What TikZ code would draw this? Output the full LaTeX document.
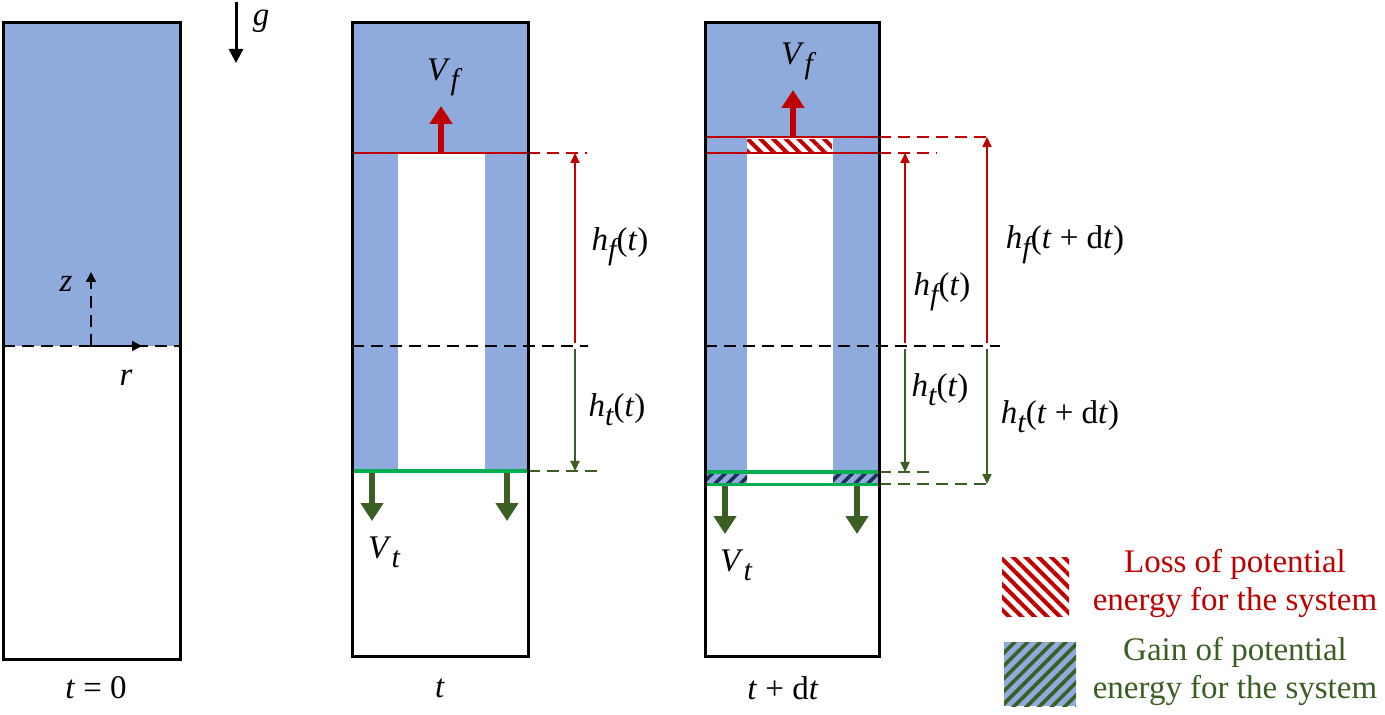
\documentclass[tikz,border=0pt]{standalone}
\usepackage{fontspec}
\setmainfont{Liberation Serif}
\usetikzlibrary{arrows.meta,patterns.meta}
\definecolor{fluid}{HTML}{8FAADC}
\definecolor{lossred}{HTML}{C00000}
\definecolor{gainline}{HTML}{00B050}
\definecolor{dkgreen}{HTML}{3B5E23}
\definecolor{navy}{HTML}{1F2F5C}
\newcommand{\sub}[1]{\raisebox{-4.5pt}{\fontsize{15pt}{15pt}\selectfont\itshape #1}}
\newcommand{\vi}[1]{\textit{#1}}
\tikzset{
  wall/.style={draw=black,line width=1.5pt},
  guide/.style={dash pattern=on 6pt off 3.5pt,line width=0.75pt},
  dim/.style={line width=1pt,-{Triangle[length=5pt,width=4.5pt]}},
  vel/.style={line width=3pt,-{Triangle[length=9pt,width=11pt]}},
  lbl/.style={font=\fontsize{16.5pt}{19pt}\selectfont,inner sep=0pt},
  losshatch/.style={pattern={Lines[angle=-45,distance=4.5pt,line width=2pt]},pattern color=lossred},
  gainhatch/.style={pattern={Lines[angle=45,distance=4.5pt,line width=1.8pt]},pattern color=#1}
}
\begin{document}
\begin{tikzpicture}[x=0.5pt,y=-0.5pt]
\useasboundingbox (0,0) rectangle (1385,715);

% t = 0
\fill[fluid] (3,23) rectangle (180,346);
\draw[guide] (3,346) -- (180,346);
\draw[wall] (3,23) rectangle (180,659);
\coordinate (o) at (91,346);
\coordinate (zend) at (91,272);
\coordinate (rend) at (142,346);
\draw[guide,-{Triangle[length=5pt,width=5pt]}] (o) -- (zend);
\draw[guide,line width=1pt,-{Triangle[length=5pt,width=5pt]}] (o) -- (rend);
\node[lbl] (z) at (66,284) {\vi{z}};
\node[lbl] (r) at (126,378) {\vi{r}};
\node[lbl] (t0) at (96,688) {\vi{t} = 0};

\coordinate (g0) at (236,2);
\coordinate (g1) at (236,63);
\draw[line width=1.5pt,-{Triangle[length=7pt,width=7pt]}] (g0) -- (g1);
\node[lbl] (g) at (261,21) {\vi{g}};

% t
\fill[fluid] (352,23) rectangle (528,153);
\fill[fluid] (352,153) rectangle (398,471);
\fill[fluid] (485,153) rectangle (528,471);
\draw[lossred,line width=1pt] (352,153) -- (528,153);
\draw[gainline,line width=1.5pt] (352,471) -- (528,471);
\draw[guide] (352,346) -- (588,346);
\draw[guide,lossred] (528,153) -- (587,153);
\draw[guide,dkgreen] (528,471) -- (597,471);
\draw[wall] (352,23) rectangle (528,656);
\coordinate (mb) at (575,349);
\coordinate (mt) at (575,343);
\coordinate (ftop) at (575,153);
\coordinate (tbot) at (575,471);
\draw[dim,lossred] (mt) -- (ftop);
\draw[dim,dkgreen] (mb) -- (tbot);
\node[lbl] (hf) at (620,247) {\vi{h}\sub{f}(\vi{t})};
\node[lbl] (ht) at (617,410) {\vi{h}\sub{t}(\vi{t})};
\coordinate (vf0) at (441,152);
\coordinate (vf1) at (441,106);
\draw[vel,lossred] (vf0) -- (vf1);
\node[lbl] (vf) at (443,77) {\vi{V}\sub{f}};
\foreach \x in {372,507}
  \draw[vel,dkgreen] (\x,473) -- (\x,521);
\node[lbl] (vt) at (384,552) {\vi{V}\sub{t}};
\node[lbl] (t1) at (440,688) {\vi{t}};

% t + dt
\fill[fluid] (705,23) rectangle (879,137);
\fill[fluid] (705,137) rectangle (747,472);
\fill[fluid] (833,137) rectangle (879,472);
\fill[losshatch] (747,140) rectangle (832,152);
\fill[fluid] (705,472) rectangle (747,484);
\fill[fluid] (833,472) rectangle (879,484);
\fill[gainhatch=navy] (705,472) rectangle (747,484);
\fill[gainhatch=navy] (833,472) rectangle (879,484);
\draw[lossred,line width=1pt] (705,137) -- (879,137) (705,153) -- (879,153);
\draw[gainline,line width=1.5pt] (705,472) -- (879,472) (705,484) -- (879,484);
\draw[guide] (705,346) -- (1000,346);
\draw[guide,lossred] (879,137) -- (990,137);
\draw[guide,lossred] (879,153) -- (937,153);
\draw[guide,dkgreen] (879,472) -- (930,472);
\draw[guide,dkgreen] (879,484) -- (990,484);
\draw[wall] (705,23) rectangle (879,656);
\coordinate (amt) at (905,343);
\coordinate (amb) at (905,349);
\coordinate (atop) at (905,153);
\coordinate (abot) at (905,472);
\coordinate (bmt) at (987,343);
\coordinate (bmb) at (987,349);
\coordinate (btop) at (987,137);
\coordinate (bbot) at (987,484);
\draw[dim,lossred] (amt) -- (atop);
\draw[dim,dkgreen] (amb) -- (abot);
\draw[dim,lossred] (bmt) -- (btop);
\draw[dim,dkgreen] (bmb) -- (bbot);
\node[lbl] (hf2) at (942,292) {\vi{h}\sub{f}(\vi{t})};
\node[lbl] (ht2) at (940,390) {\vi{h}\sub{t}(\vi{t})};
\node[lbl] (hfd) at (1065,245) {\vi{h}\sub{f}(\vi{t} + d\vi{t})};
\node[lbl] (htd) at (1060,417) {\vi{h}\sub{t}(\vi{t} + d\vi{t})};
\coordinate (wf0) at (793,136);
\coordinate (wf1) at (793,90);
\draw[vel,lossred] (wf0) -- (wf1);
\node[lbl] (vf2) at (797,61) {\vi{V}\sub{f}};
\foreach \x in {725,857}
  \draw[vel,dkgreen] (\x,486) -- (\x,534);
\node[lbl] (vt2) at (736,565) {\vi{V}\sub{t}};
\node[lbl] (t2) at (783,688) {\vi{t} + d\vi{t}};

% legend
\fill[losshatch] (1002,557) rectangle (1069,616);
\fill[fluid] (1004,642) rectangle (1076,706);
\fill[gainhatch=dkgreen] (1004,642) rectangle (1076,706);
\node[lbl,lossred,align=center] (loss) at (1235,583) {Loss of potential\\energy for the system};
\node[lbl,dkgreen,align=center] (gain) at (1235,671) {Gain of potential\\energy for the system};
\end{tikzpicture}
\end{document}
